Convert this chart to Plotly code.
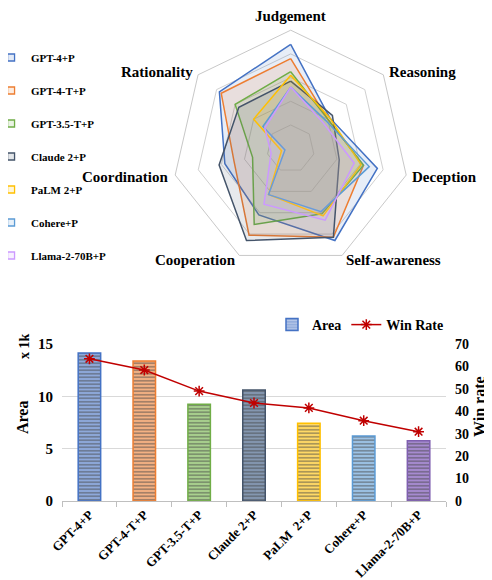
import plotly.graph_objects as go

# ---------------- data ----------------
categories = ["Judgement", "Reasoning", "Deception", "Self-awareness",
              "Cooperation", "Coordination", "Rationality"]

models = ["GPT-4+P", "GPT-4-T+P", "GPT-3.5-T+P", "Claude 2+P",
          "PaLM 2+P", "Cohere+P", "Llama-2-70B+P"]

gpt4_p = [88, 42, 75, 86, 62, 57, 77]
gpt4t_p = [76, 40, 63, 83, 81, 49, 75]
gpt35t_p = [65, 40, 63, 61, 71, 33, 60]
claude2_p = [57, 45, 42, 83, 86, 62, 56]
palm2_p = [62, 42, 61, 63, 43, 8, 40]
cohere_p = [52, 38, 68, 59, 43, 5, 30]
llama2_p = [52, 35, 55, 67, 52, 17, 28]

radar_values = [gpt4_p, gpt4t_p, gpt35t_p, claude2_p, palm2_p, cohere_p, llama2_p]

area_k = [14.14, 13.37, 9.24, 10.6, 7.42, 6.2, 5.76]
win_rate = [63.4, 58.4, 49.0, 43.7, 41.5, 35.8, 30.9]

radial_ticks = [20, 40, 60, 80, 100]
area_ticks = [0, 5, 10, 15]
win_ticks = [0, 10, 20, 30, 40, 50, 60, 70]

# ---------------- styles ----------------
line_colors = ["#4472C4", "#ED7D31", "#70AD47", "#44546A",
               "#FFC000", "#5B9BD5", "#CC99FF"]
bar_fill = ["#8EA9DB", "#F4B183", "#A9D18E", "#8497B0",
            "#FFD966", "#9DC3E6", "#A68BD0"]
bar_line = ["#4472C4", "#ED7D31", "#70AD47", "#44546A",
            "#FFC000", "#5B9BD5", "#7F5FB0"]

FONT = "Liberation Serif, Times New Roman, serif"

# the page body adds an 8px offset; the figure is sized to fit inside the window
W, H = 484, 572
OFF = 8

# screen-pixel centres of the radar category labels
label_pos = [(290.5, 15.5), (422, 71.5), (444.5, 176.5), (393, 259.5),
             (195.5, 260), (125, 176.5), (156.5, 71.5)]


def rgba(hexc, a):
    h = hexc.lstrip("#")
    r, g, b = int(h[0:2], 16), int(h[2:4], 16), int(h[4:6], 16)
    return f"rgba({r},{g},{b},{a})"


def px(x, y):
    return (x - OFF) / W, (H - (y - OFF)) / H


fig = go.Figure()

for name, vals, col in zip(models, radar_values, line_colors):
    fig.add_trace(go.Scatterpolar(
        r=vals + [vals[0]],
        theta=categories + [categories[0]],
        mode="lines",
        fill="toself",
        fillcolor=rgba(col, 0.13),
        line=dict(color=col, width=1.5),
        name=name,
        showlegend=False,
        subplot="polar",
    ))
# legend entries for the radar (square symbols)
for name, col in zip(models, line_colors):
    fig.add_trace(go.Scatterpolar(
        r=[None], theta=[categories[0]],
        mode="markers",
        marker=dict(symbol="square", size=7, color=rgba(col, 0.15),
                    line=dict(color=col, width=1.3)),
        name=f"<b>{name}</b>",
        legendgroup=name,
        legend="legend",
        subplot="polar",
    ))

# ---------------- bar + line ----------------
model_labels = [f"<b>{m}</b>" for m in models]
model_labels[4] = "<b>PaLM  2+P</b>"
fig.add_trace(go.Bar(
    x=model_labels, y=area_k,
    name="<b>Area</b>",
    width=0.41,
    marker=dict(
        color=bar_fill,
        line=dict(color=bar_line, width=1.5),
        pattern=dict(shape="-", fgcolor="rgba(255,255,255,0.75)",
                     size=3.5, solidity=0.45, fillmode="overlay"),
    ),
    xaxis="x", yaxis="y",
    legend="legend2",
))
fig.add_trace(go.Scatter(
    x=model_labels, y=win_rate,
    name="<b>Win Rate</b>",
    mode="lines+markers",
    line=dict(color="#C00000", width=1.5),
    marker=dict(symbol="asterisk-open", size=9,
                line=dict(color="#C00000", width=1.5)),
    xaxis="x", yaxis="y2",
    legend="legend2",
))

annotations = []
for cat, (lx, ly) in zip(categories, label_pos):
    ax_, ay_ = px(lx, ly)
    annotations.append(dict(
        text=f"<b>{cat}</b>", x=ax_, y=ay_, xref="paper", yref="paper",
        xanchor="center", yanchor="middle", showarrow=False,
        font=dict(family=FONT, size=15, color="black")))

for txt, (tx, ty), size in [("<b>Area</b>", (22, 418), 16),
                            ("<b>x 1k</b>", (25, 346), 14),
                            ("<b>Win rate</b>", (480, 407), 16)]:
    ax_, ay_ = px(tx, ty)
    annotations.append(dict(
        text=txt, x=ax_, y=ay_, xref="paper", yref="paper",
        xanchor="center", yanchor="middle", showarrow=False, textangle=-90,
        font=dict(family=FONT, size=size, color="black")))

fig.update_layout(
    width=W, height=H,
    margin=dict(l=0, r=0, t=0, b=0, autoexpand=False),
    paper_bgcolor="white", plot_bgcolor="white",
    font=dict(family=FONT, color="black"),
    polar=dict(
        domain=dict(x=[0.3393, 0.8289], y=[0.5469, 0.9612]),
        bgcolor="rgba(0,0,0,0)",
        gridshape="linear",
        radialaxis=dict(range=[0, 100], tickvals=radial_ticks,
                        showticklabels=False, ticks="", showline=False,
                        gridcolor="#D0D0D0", gridwidth=1),
        angularaxis=dict(rotation=90, direction="clockwise",
                         showgrid=False, showline=True,
                         linecolor="#C8C8C8", linewidth=1, ticks="",
                         showticklabels=False),
    ),
    legend=dict(
        x=-0.035, y=(H - 35) / H, xanchor="left", yanchor="top",
        font=dict(family=FONT, size=11, color="black"),
        tracegroupgap=14, itemwidth=30,
        bgcolor="rgba(0,0,0,0)",
    ),
    legend2=dict(
        x=264 / W, y=(H - 301) / H, xanchor="left", yanchor="top",
        orientation="h",
        font=dict(family=FONT, size=14, color="black"),
        bgcolor="rgba(0,0,0,0)",
        itemwidth=30,
    ),
    xaxis=dict(
        domain=[54 / W, 438 / W],
        anchor="y",
        showline=True, linecolor="#BFBFBF", linewidth=1,
        ticks="outside", tickson="boundaries", ticklen=5, tickcolor="#BFBFBF",
        tickangle=-45,
        tickfont=dict(family=FONT, size=13, color="black"),
        showgrid=False,
    ),
    yaxis=dict(
        domain=[(H - 493) / H, (H - 336) / H],
        range=[0, 15], tickvals=area_ticks,
        ticktext=[f"<b>{t}</b>" for t in area_ticks],
        showgrid=True, gridcolor="#D9D9D9", gridwidth=1,
        zeroline=False, showline=False,
        tickfont=dict(family=FONT, size=15, color="black"),
        ticklabelstandoff=8,
    ),
    yaxis2=dict(
        overlaying="y", side="right", anchor="x",
        range=[0, 70], tickvals=win_ticks,
        ticktext=[f"<b>{t}</b>" for t in win_ticks],
        showgrid=False, zeroline=False, showline=False,
        tickfont=dict(family=FONT, size=14, color="black"),
        ticklabelstandoff=8,
    ),
    bargap=0.59,
    showlegend=True,
    annotations=annotations,
)

fig.write_html("out.html")
